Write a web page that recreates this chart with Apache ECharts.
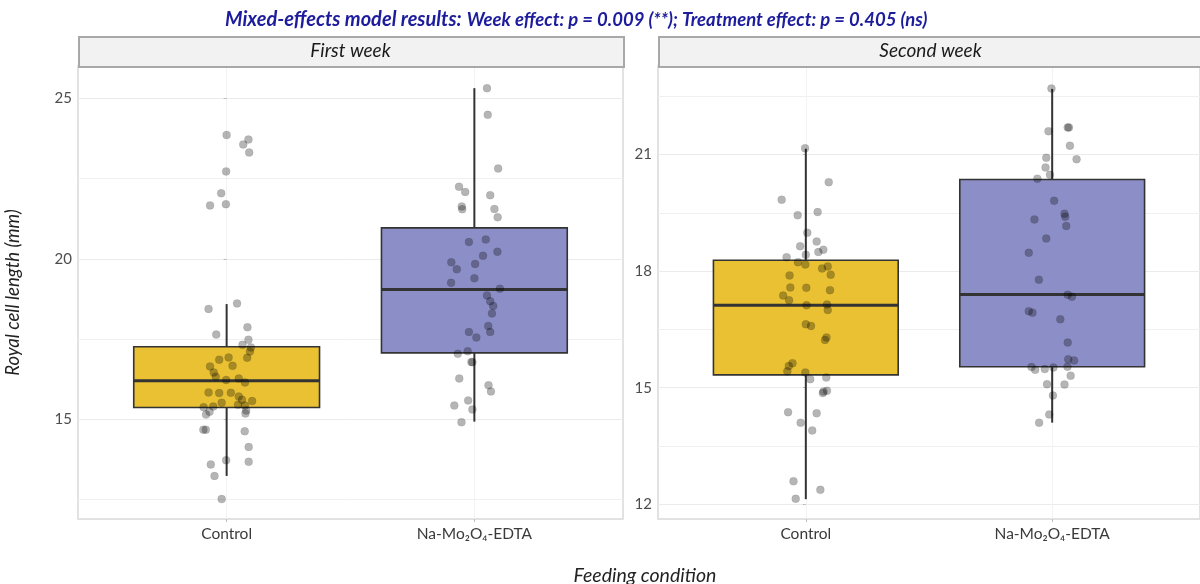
<!DOCTYPE html>
<html>
<head>
<meta charset="utf-8">
<script src="https://cdn.jsdelivr.net/npm/echarts@6/dist/echarts.min.js"></script>
<style>
html,body{margin:0;padding:0;background:#fff;}
#chart{width:1200px;height:584px;}
</style>
</head>
<body>
<div id="chart"></div>
<script>
// ---------------- DATA ----------------
var categories = ['Control', 'Na-Mo\u2082O\u2084-EDTA'];
var weeks = ['First week', 'Second week'];

// box stats: [low whisker, Q1, median, Q3, high whisker]
var week1ControlBox = [13.24, 15.37, 16.20, 17.26, 18.59];
var week1NaMoBox    = [14.93, 17.07, 19.04, 20.96, 25.31];
var week2ControlBox = [12.13, 15.33, 17.12, 18.28, 21.15];
var week2NaMoBox    = [14.10, 15.54, 17.40, 20.36, 22.69];

// individual observations (values) and their horizontal jitter (category units)
var week1ControlVals = [23.85,23.71,23.56,23.31,22.72,22.04,21.66,21.70,18.61,18.44,17.87,17.64,17.48,17.32,17.24,17.11,16.92,16.86,16.93,16.67,16.65,16.46,16.33,16.23,16.27,16.15,15.84,15.82,15.83,15.71,15.61,15.57,15.46,15.43,15.52,15.40,15.38,15.24,15.15,15.28,15.18,14.68,14.68,14.63,14.14,13.60,13.73,13.68,13.24,12.52];
var week1ControlJit  = [0.000,0.088,0.067,0.091,-0.002,-0.022,-0.067,-0.003,0.042,-0.073,0.084,-0.042,0.088,0.064,0.098,0.094,0.083,-0.030,0.008,0.024,-0.067,-0.052,-0.044,-0.002,0.049,0.074,-0.073,-0.030,0.017,0.049,0.062,0.103,0.046,0.074,-0.020,-0.054,-0.093,-0.069,-0.083,0.079,0.076,-0.094,-0.084,0.073,0.089,-0.064,-0.002,0.089,-0.049,-0.020];

var week1NaMoVals = [25.31,24.48,22.81,22.24,22.08,21.98,21.63,21.54,21.55,21.29,20.60,20.52,20.22,20.09,19.89,19.84,19.67,19.39,19.25,19.07,18.86,18.68,18.53,18.30,17.91,17.72,17.72,17.55,17.04,17.12,16.79,16.78,16.27,16.06,15.87,15.59,15.43,15.31,14.91];
var week1NaMoJit  = [0.051,0.054,0.096,-0.062,-0.037,0.064,-0.051,-0.049,0.081,0.094,0.046,-0.022,0.093,0.035,-0.093,0.003,-0.071,0.000,-0.094,0.103,0.051,0.064,0.076,0.071,0.056,0.064,-0.022,0.008,-0.067,-0.027,-0.012,-0.008,-0.061,0.057,0.067,-0.025,-0.081,-0.008,-0.052];

var week2ControlVals = [21.16,20.29,19.84,19.44,19.52,18.99,18.76,18.64,18.55,18.49,18.36,18.42,18.23,18.17,18.07,18.12,17.89,17.91,17.58,17.57,17.51,17.37,17.25,17.12,17.14,17.00,16.63,16.59,16.29,16.23,15.63,15.56,15.42,15.39,15.22,15.26,14.92,14.86,14.90,14.37,14.34,14.10,13.90,12.59,12.37,12.14];
var week2ControlJit  = [-0.003,0.093,-0.098,-0.033,0.048,0.006,0.044,-0.023,0.071,0.051,-0.078,0.000,-0.032,-0.002,0.066,0.089,-0.066,0.101,-0.063,0.002,0.098,-0.092,-0.068,0.003,0.086,0.089,0.000,0.021,0.084,0.078,-0.054,-0.069,-0.075,-0.002,0.018,0.083,0.086,0.069,0.072,-0.072,0.044,-0.021,0.026,-0.050,0.059,-0.041];

var week2NaMoVals = [22.70,21.70,21.70,21.60,21.23,20.92,20.88,20.67,20.48,20.38,19.81,19.48,19.40,19.33,19.16,18.84,18.47,17.78,17.39,17.34,16.97,16.93,16.76,16.16,15.73,15.70,15.54,15.53,15.46,15.48,15.52,15.31,15.09,15.08,14.80,14.31,14.10];
var week2NaMoJit  = [-0.003,0.068,0.063,-0.015,0.072,-0.024,0.099,-0.027,-0.009,-0.060,0.008,0.050,0.053,-0.072,0.057,-0.024,-0.095,-0.054,0.063,0.080,-0.095,-0.080,0.033,0.063,0.065,0.089,0.062,-0.084,-0.069,-0.030,0.005,0.075,-0.021,0.050,0.003,-0.012,-0.053];

// axis ticks
var week1Ticks = [15, 20, 25];
var week1Minor = [12.5, 17.5, 22.5];
var week1Range = [11.9, 26.0];
var week2Ticks = [12, 15, 18, 21];
var week2Minor = [13.5, 16.5, 19.5, 22.5];
var week2Range = [11.62, 23.28];

// ---------------- STYLE ----------------
var FONT = 'Lato, "Open Sans", sans-serif';
var boxColors = ['#E9C132', '#8C8FC7'];
var BOX_WIDTH = 0.75;
var gridLeft = [78, 658];
var gridWidth = 545;
var gridTop = 66;
var gridHeight = 453;

function boxData(boxes) {
  return boxes.map(function (b, i) { return [i].concat(b); });
}
function pointData(vals, jit, catIndex) {
  return vals.map(function (v, i) { return [catIndex + jit[i], v]; });
}
function renderBox(params, api) {
  var x = api.value(0);
  var lo = api.coord([x, api.value(1)]);
  var q1 = api.coord([x, api.value(2)]);
  var md = api.coord([x, api.value(3)]);
  var q3 = api.coord([x, api.value(4)]);
  var hi = api.coord([x, api.value(5)]);
  var w = api.size([BOX_WIDTH, 0])[0];
  var col = boxColors[params.dataIndex];
  return {
    type: 'group',
    children: [
      {type: 'line', shape: {x1: lo[0], y1: lo[1], x2: q1[0], y2: q1[1]}, style: {stroke: '#333', lineWidth: 2}},
      {type: 'line', shape: {x1: q3[0], y1: q3[1], x2: hi[0], y2: hi[1]}, style: {stroke: '#333', lineWidth: 2}},
      {type: 'rect', shape: {x: q3[0] - w / 2, y: q3[1], width: w, height: q1[1] - q3[1]}, style: {fill: col, stroke: '#333', lineWidth: 1.6}},
      {type: 'line', shape: {x1: md[0] - w / 2, y1: md[1], x2: md[0] + w / 2, y2: md[1]}, style: {stroke: '#333', lineWidth: 3}}
    ]
  };
}

function gridLineSeries(gi, ticks, minor) {
  var d = [];
  ticks.forEach(function (t) { d.push({yAxis: t, lineStyle: {color: '#ebebeb', width: 1}}); });
  minor.forEach(function (t) { d.push({yAxis: t, lineStyle: {color: '#f0f0f0', width: 1}}); });
  categories.forEach(function (c, i) { d.push({xAxis: i, lineStyle: {color: '#f3f3f3', width: 1}}); });
  return {
    type: 'line', xAxisIndex: gi, yAxisIndex: gi, data: [], silent: true, z: 0,
    markLine: {z: 0, silent: true, symbol: ['none', 'none'], label: {show: false},
      lineStyle: {type: 'solid'}, emphasis: {disabled: true}, animation: false, data: d}
  };
}

var panels = [
  {ticks: week1Ticks, minor: week1Minor, range: week1Range, boxes: [week1ControlBox, week1NaMoBox],
   pts: [[week1ControlVals, week1ControlJit], [week1NaMoVals, week1NaMoJit]]},
  {ticks: week2Ticks, minor: week2Minor, range: week2Range, boxes: [week2ControlBox, week2NaMoBox],
   pts: [[week2ControlVals, week2ControlJit], [week2NaMoVals, week2NaMoJit]]}
];

var grids = [], xAxes = [], yAxes = [], series = [], graphics = [], titles = [];

titles.push({
  left: 220, top: 5,
  text: '{a|Mixed-effects model results:} {b|Week effect: p = 0.009 (**); Treatment effect: p = 0.405 (ns)}',
  textStyle: {
    rich: {
      a: {fontFamily: FONT, fontSize: 20, fontWeight: 'bold', fontStyle: 'italic', color: '#1c1c9c'},
      b: {fontFamily: FONT, fontSize: 18.5, fontWeight: 'bold', fontStyle: 'italic', color: '#1c1c9c'}
    }
  }
});
titles.push({
  left: 640, top: 561, textAlign: 'center', text: 'Feeding condition',
  textStyle: {fontFamily: FONT, fontSize: 19.5, fontStyle: 'italic', fontWeight: 'normal', color: '#222'}
});

panels.forEach(function (p, gi) {
  grids.push({left: gridLeft[gi], top: gridTop, width: gridWidth, height: gridHeight,
    show: true, borderColor: '#d9d9d9', borderWidth: 1.5, backgroundColor: '#fff'});
  xAxes.push({
    type: 'value', gridIndex: gi, min: -0.6, max: 1.6,
    axisLine: {show: false}, splitLine: {show: false},
    axisTick: {show: true, customValues: [0, 1], length: 3, lineStyle: {color: '#bbb'}},
    axisLabel: {show: true, customValues: [0, 1], margin: 7,
      formatter: function (v) { return categories[Math.round(v)] || ''; },
      fontFamily: FONT, fontSize: 15.5, color: '#3a3a3a'}
  });
  yAxes.push({
    type: 'value', gridIndex: gi, min: p.range[0], max: p.range[1],
    axisLine: {show: false}, splitLine: {show: false},
    axisTick: {show: true, customValues: p.ticks, length: 3, lineStyle: {color: '#bbb'}},
    axisLabel: {show: true, customValues: p.ticks, margin: 6,
      fontFamily: FONT, fontSize: 15, color: '#4d4d4d'},
    name: gi === 0 ? 'Royal cell length (mm)' : '',
    nameLocation: 'middle', nameGap: 55, nameRotate: 90,
    nameTextStyle: {fontFamily: FONT, fontSize: 18.5, fontStyle: 'italic', color: '#222'}
  });
  series.push(gridLineSeries(gi, p.ticks, p.minor));
  series.push({
    type: 'custom', xAxisIndex: gi, yAxisIndex: gi, z: 2, silent: true,
    renderItem: renderBox, encode: {x: 0, y: [1, 2, 3, 4, 5]},
    data: boxData(p.boxes)
  });
  p.pts.forEach(function (pp, ci) {
    series.push({
      type: 'scatter', xAxisIndex: gi, yAxisIndex: gi, z: 3, silent: true,
      symbolSize: 8,
      itemStyle: {color: 'rgba(0,0,0,0.36)', borderColor: 'rgba(0,0,0,0.15)', borderWidth: 0.6},
      data: pointData(pp[0], pp[1], ci)
    });
  });
  // facet strip
  graphics.push({
    type: 'rect', left: gridLeft[gi], top: 36, z: 10,
    shape: {width: gridWidth, height: 30},
    style: {fill: '#f2f2f2', stroke: '#a8a8a8', lineWidth: 2}
  });
  graphics.push({
    type: 'text', z: 11,
    x: gridLeft[gi] + gridWidth / 2, y: 51,
    style: {text: weeks[gi], fontFamily: FONT, fontSize: 19, fontStyle: 'italic',
      fill: '#1a1a1a', align: 'center', verticalAlign: 'middle'}
  });
});

var chart = echarts.init(document.getElementById('chart'), null, {renderer: 'canvas'});
chart.setOption({
  animation: false,
  backgroundColor: '#ffffff',
  title: titles,
  grid: grids,
  xAxis: xAxes,
  yAxis: yAxes,
  series: series,
  graphic: {elements: graphics}
});
</script>
</body>
</html>
